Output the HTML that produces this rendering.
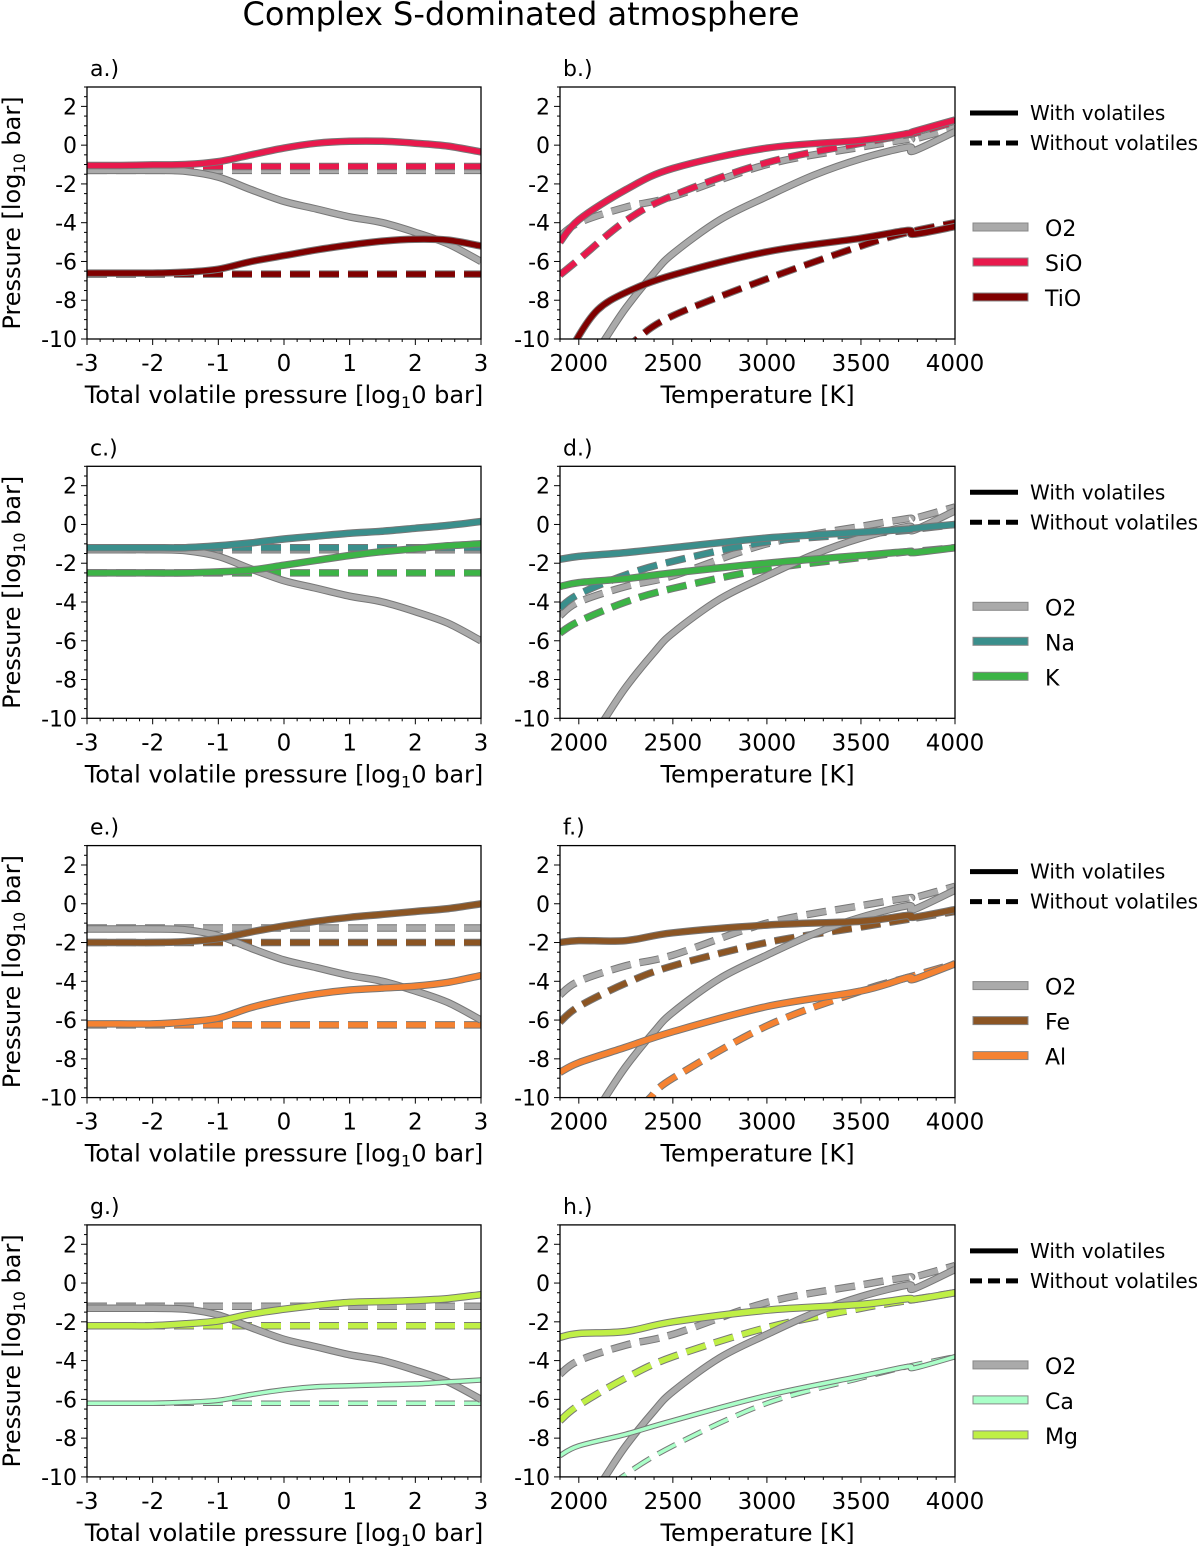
<!DOCTYPE html>
<html><head><meta charset="utf-8">
<style>
body{margin:0;background:#fff;}
svg text{font-family:"DejaVu Sans","Liberation Sans",sans-serif;fill:#000;}
</style></head>
<body>
<svg id="fig" width="1200" height="1548" viewBox="0 0 1200 1548" xmlns="http://www.w3.org/2000/svg">
<text x="521" y="25" font-size="32" text-anchor="middle">Complex S-dominated atmosphere</text>
</svg>
<script>
// ---- data ----
const volX = [-3,-2.5,-2,-1.5,-1,-0.5,0,0.5,1,1.5,2,2.5,3];
const O2vol = [-1.3,-1.3,-1.3,-1.35,-1.65,-2.3,-2.9,-3.3,-3.7,-4.0,-4.5,-5.1,-6.0];
const SiOvol = [-1.05,-1.05,-1.02,-1.0,-0.85,-0.5,-0.15,0.1,0.2,0.2,0.1,-0.05,-0.35];
const TiOvol = [-6.6,-6.6,-6.6,-6.55,-6.4,-6.0,-5.7,-5.4,-5.15,-4.95,-4.85,-4.9,-5.2];
const Navol = [-1.2,-1.2,-1.2,-1.2,-1.1,-0.95,-0.75,-0.6,-0.45,-0.35,-0.2,-0.05,0.15];
const Kvol = [-2.5,-2.5,-2.5,-2.5,-2.45,-2.35,-2.1,-1.85,-1.6,-1.4,-1.25,-1.1,-1.0];
const Fevol = [-2.0,-2.0,-2.0,-1.95,-1.8,-1.45,-1.15,-0.9,-0.7,-0.55,-0.4,-0.25,0.0];
const Alvol = [-6.2,-6.2,-6.2,-6.1,-5.9,-5.35,-4.95,-4.65,-4.45,-4.35,-4.25,-4.05,-3.7];
const Mgvol = [-2.2,-2.2,-2.2,-2.1,-1.95,-1.6,-1.35,-1.15,-1.0,-0.95,-0.9,-0.8,-0.6];
const Cavol = [-6.2,-6.2,-6.2,-6.15,-6.05,-5.75,-5.5,-5.35,-5.3,-5.25,-5.2,-5.1,-5.0];
const O2flat = -1.3, SiOflat = -1.1, TiOflat = -6.65, Naflat = -1.2, Kflat = -2.5, Feflat = -2.0, Alflat = -6.25, Mgflat = -2.2, Caflat = -6.2;

const tT = [1900,2000,2250,2500,3000,3500,3750,3780,4000];
const O2T_with_T = [2040,2140,2250,2400,2500,2750,3000,3250,3500,3750,3780,4000];
const O2T_with = [-11.5,-10,-8.4,-6.6,-5.6,-3.85,-2.65,-1.55,-0.7,-0.1,-0.3,0.7];
const O2T_wo = [-4.7,-4.0,-3.2,-2.65,-1.0,-0.1,0.3,0.3,0.9];
const SiOT_with = [-5.0,-3.85,-2.3,-1.2,-0.15,0.25,0.6,0.7,1.3];
const SiOT_wo = [-6.7,-5.9,-3.9,-2.6,-0.9,0.1,0.55,0.6,1.2];
const TiOT_with_T = [1950,1990,2100,2250,2500,3000,3500,3750,3780,4000];
const TiOT_with = [-11,-10,-8.5,-7.6,-6.7,-5.5,-4.8,-4.4,-4.6,-4.2];
const TiOT_wo_T = [2250,2310,2500,3000,3500,3750,4000];
const TiOT_wo = [-10.8,-10,-8.8,-6.9,-5.2,-4.5,-4.0];
const NaT_with = [-1.8,-1.65,-1.45,-1.2,-0.7,-0.4,-0.25,-0.2,0.0];
const NaT_wo = [-4.3,-3.6,-2.6,-1.9,-0.9,-0.5,-0.3,-0.25,0.0];
const KT_with = [-3.2,-3.0,-2.8,-2.5,-2.0,-1.6,-1.4,-1.45,-1.2];
const KT_wo = [-5.6,-5.0,-4.0,-3.3,-2.3,-1.7,-1.4,-1.4,-1.2];
const FeT_with = [-2.0,-1.9,-1.9,-1.5,-1.1,-0.9,-0.6,-0.7,-0.3];
const FeT_wo = [-6.1,-5.3,-4.1,-3.2,-2.0,-1.2,-0.8,-0.75,-0.4];
const AlT_with = [-8.7,-8.2,-7.4,-6.6,-5.3,-4.5,-3.8,-3.9,-3.1];
const AlT_wo_T = [2330,2380,2500,3000,3500,3750,4000];
const AlT_wo = [-10.6,-10,-9.0,-6.3,-4.5,-3.8,-3.1];
const MgT_with = [-2.8,-2.6,-2.5,-2.0,-1.4,-1.1,-0.8,-0.85,-0.5];
const MgT_wo = [-7.1,-6.3,-4.9,-3.8,-2.3,-1.3,-0.9,-0.85,-0.5];
const CaT_with = [-8.9,-8.4,-7.8,-7.1,-5.8,-4.8,-4.3,-4.4,-3.8];
const CaT_wo_T = [2180,2230,2500,3000,3500,3750,4000];
const CaT_wo = [-10.6,-10,-8.4,-6.2,-4.9,-4.3,-3.8];

const colors = {O2:'#aaaaaa',SiO:'#e8194c',TiO:'#800000',Na:'#3a8f8c',K:'#3cb446',Fe:'#8c5523',Al:'#f58231',Ca:'#aaffc8',Mg:'#bfef45'};
const panelLabels = ['a.)','b.)','c.)','d.)','e.)','f.)','g.)','h.)'];
const yTicks = [2,0,-2,-4,-6,-8,-10];
const volTicks = [-3,-2,-1,0,1,2,3];
const tTicks = [2000,2500,3000,3500,4000];

const rows = [
 {sp:['O2','SiO','TiO'], vol:[O2vol,SiOvol,TiOvol], flat:[O2flat,SiOflat,TiOflat],
  tw:[[O2T_with_T,O2T_with],[tT,SiOT_with],[TiOT_with_T,TiOT_with]], two:[[tT,O2T_wo],[tT,SiOT_wo],[TiOT_wo_T,TiOT_wo]]},
 {sp:['O2','Na','K'], vol:[O2vol,Navol,Kvol], flat:[O2flat,Naflat,Kflat],
  tw:[[O2T_with_T,O2T_with],[tT,NaT_with],[tT,KT_with]], two:[[tT,O2T_wo],[tT,NaT_wo],[tT,KT_wo]]},
 {sp:['O2','Fe','Al'], vol:[O2vol,Fevol,Alvol], flat:[-1.25,Feflat,Alflat],
  tw:[[O2T_with_T,O2T_with],[tT,FeT_with],[tT,AlT_with]], two:[[tT,O2T_wo],[tT,FeT_wo],[AlT_wo_T,AlT_wo]]},
 {sp:['O2','Ca','Mg'], vol:[O2vol,Cavol,Mgvol], flat:[-1.2,Caflat,Mgflat],
  tw:[[O2T_with_T,O2T_with],[tT,CaT_with],[tT,MgT_with]], two:[[tT,O2T_wo],[CaT_wo_T,CaT_wo],[tT,MgT_wo]]}
];

// ---- drawing ----
const NS='http://www.w3.org/2000/svg';
const svg=document.getElementById('fig');
function mk(tag,attrs,parent){const e=document.createElementNS(NS,tag);for(const k in attrs)e.setAttribute(k,attrs[k]);(parent||svg).appendChild(e);return e;}
function smooth(pts){
  let d='M'+pts[0][0].toFixed(1)+','+pts[0][1].toFixed(1);
  for(let i=0;i<pts.length-1;i++){
    const p0=pts[Math.max(0,i-1)],p1=pts[i],p2=pts[i+1],p3=pts[Math.min(pts.length-1,i+2)];
    const c1=[p1[0]+(p2[0]-p0[0])/6,p1[1]+(p2[1]-p0[1])/6];
    const c2=[p2[0]-(p3[0]-p1[0])/6,p2[1]-(p3[1]-p1[1])/6];
    d+='C'+c1.map(v=>v.toFixed(1)).join(',')+' '+c2.map(v=>v.toFixed(1)).join(',')+' '+p2[0].toFixed(1)+','+p2[1].toFixed(1);
  }
  return d;
}
const H=252, ROWSTEP=379.3, TOP0=87;
function drawLine(g,pts,color,dashed,thin,name){
  const d=smooth(pts);
  const w=thin?3.5:5.5;
  const o=mk('path',{d:d,fill:'none',stroke:'#777','stroke-width':w+2,'stroke-dasharray':dashed?'20 9':'none','stroke-linecap':'butt'},g);
  
  
  const p=mk('path',{d:d,fill:'none',stroke:color,'stroke-width':w,'stroke-dasharray':dashed?'20 9':'none','stroke-linecap':'butt'},g);
  
  
}
function axes(x0,x1,top,xmin,xmax,xt,minorStep,lbl,xlabel,idx,showYLabel){
  const sx=v=>x0+(v-xmin)/(xmax-xmin)*(x1-x0);
  const sy=v=>top+(3-v)/13*H;
  const g=mk('g',{});
  
  
  const t=mk('text',{x:x0+3,y:top-11,'font-size':22},g);t.textContent=lbl;
  
  for(let v=-10;v<=3.001;v+=0.5){const y=sy(v);const major=Math.abs(v%2)<1e-6;
    mk('line',{x1:x0,x2:x0-(major?6:3),y1:y,y2:y,stroke:'#000','stroke-width':1},g);}
  yTicks.forEach(v=>{const tx=mk('text',{x:x0-10,y:sy(v)+8,'font-size':22,'text-anchor':'end'},g);tx.textContent=v;
    });
  for(let v=xmin;v<=xmax+1e-6;v+=minorStep){const x=sx(v);const major=xt.some(m=>Math.abs(m-v)<1e-6);
    mk('line',{x1:x,x2:x,y1:top+H,y2:top+H+(major?6:3),stroke:'#000','stroke-width':1},g);}
  xt.forEach(v=>{const tx=mk('text',{x:sx(v),y:top+H+32,'font-size':23,'text-anchor':'middle'},g);tx.textContent=v;
    });
  const xl=mk('text',{x:(x0+x1)/2,y:top+H+64,'font-size':24,'text-anchor':'middle'},g);
  
  if(xlabel==='vol'){xl.innerHTML='Total volatile pressure [log<tspan font-size="16" dy="5">1</tspan><tspan dy="-5">0 bar]</tspan>';}
  else xl.textContent='Temperature [K]';
  if(showYLabel){const yl=mk('text',{x:0,y:0,'font-size':24,'text-anchor':'middle',transform:'translate(20,'+(top+H/2)+') rotate(-90)'},g);
    yl.innerHTML='Pressure [log<tspan font-size="16" dy="5">10</tspan><tspan dy="-5"> bar]</tspan>';
    }
  const cid='clip'+idx;
  const cp=mk('clipPath',{id:cid},g);mk('rect',{x:x0,y:top,width:x1-x0,height:H},cp);
  const lg=mk('g',{'clip-path':'url(#'+cid+')'},g);
  return {sx,sy,g,lg,frame:()=>{const f=mk('rect',{x:x0,y:top,width:x1-x0,height:H,fill:'none',stroke:'#000','stroke-width':1.3},g);
    }};
}
rows.forEach((r,i)=>{
  const top=TOP0+ROWSTEP*i;
  const A=axes(87,481,top,-3,3,volTicks,0.2,panelLabels[2*i],'vol',2*i,true);
  const order=[0,1,2];
  order.forEach(k=>{
    const sp=r.sp[k];
    drawLine(A.lg,volX.map(x=>[A.sx(x),A.sy(r.flat[k])]),colors[sp],true,sp==='Ca',sp+'-without-volatiles');
  });
  order.forEach(k=>{
    const sp=r.sp[k];
    drawLine(A.lg,volX.map((x,j)=>[A.sx(x),A.sy(r.vol[k][j])]),colors[sp],false,sp==='Ca',sp+'-with-volatiles');
  });
  A.frame();
  const B=axes(560,955,top,1900,4000,tTicks,100,panelLabels[2*i+1],'T',2*i+1,false);
  order.forEach(k=>{const sp=r.sp[k];const [xs,ys]=r.two[k];
    drawLine(B.lg,xs.map((x,j)=>[B.sx(x),B.sy(ys[j])]),colors[sp],true,sp==='Ca',sp+'-without-volatiles');});
  order.forEach(k=>{const sp=r.sp[k];const [xs,ys]=r.tw[k];
    drawLine(B.lg,xs.map((x,j)=>[B.sx(x),B.sy(ys[j])]),colors[sp],false,sp==='Ca',sp+'-with-volatiles');});
  B.frame();
  const lg=mk('g',{});
  
  
  const ly=[top+26,top+56];
  ['With volatiles','Without volatiles'].forEach((s,j)=>{
    mk('line',{x1:970,x2:1018,y1:ly[j],y2:ly[j],stroke:'#000','stroke-width':5,'stroke-dasharray':j?'12 6':'none'},lg);
    const t=mk('text',{x:1030,y:ly[j]+7,'font-size':20},lg);t.textContent=s;
    
  });
  r.sp.forEach((sp,j)=>{
    const y=top+140+35*j;
    mk('rect',{x:973,y:y-4,width:55,height:8,fill:colors[sp],stroke:'#888','stroke-width':1},lg);
    const t=mk('text',{x:1045,y:y+9,'font-size':22},lg);t.textContent=sp;
    
  });
});
</script>
</body></html>
